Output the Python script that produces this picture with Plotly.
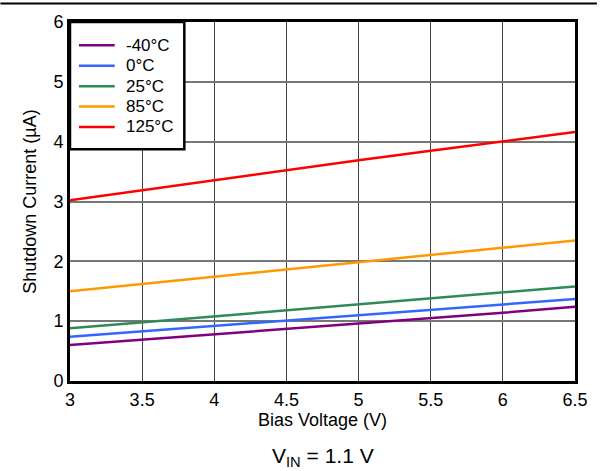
import plotly.graph_objects as go

bias_v = [3.0, 3.5, 4.0, 4.5, 5.0, 5.5, 6.0, 6.5]
temps = ["-40°C", "0°C", "25°C", "85°C", "125°C"]
i_m40 = [0.60, 0.69, 0.78, 0.86, 0.95, 1.04, 1.14, 1.24]
i_0 = [0.74, 0.83, 0.92, 1.01, 1.10, 1.19, 1.28, 1.37]
i_25 = [0.88, 0.98, 1.08, 1.18, 1.28, 1.38, 1.48, 1.58]
i_85 = [1.50, 1.62, 1.74, 1.86, 1.99, 2.11, 2.23, 2.35]
i_125 = [3.02, 3.19, 3.35, 3.52, 3.69, 3.85, 4.00, 4.16]
colors = ["#800080", "#3366ff", "#2e8b57", "#ff9900", "#ff0000"]

fig = go.Figure()
for name, ys, c in zip(temps, [i_m40, i_0, i_25, i_85, i_125], colors):
    fig.add_trace(go.Scatter(x=bias_v, y=ys, mode="lines", name=name,
                             line=dict(color=c, width=2.5), showlegend=False))

# plot area in pixels (for layout-only elements: legend box, rule line)
L, R, T, B = 70, 22, 20, 90
W, H = 600, 471
PW, PH = W - L - R, H - T - B

def px(x):
    return (x - L) / PW

def py(y):
    return (H - B - y) / PH

font = "Liberation Sans, Arial, sans-serif"
fig.update_layout(
    width=W, height=H,
    margin=dict(l=L, r=R, t=T, b=B),
    paper_bgcolor="white", plot_bgcolor="white",
    font=dict(family=font, size=18, color="black"),
    showlegend=False,
    xaxis=dict(range=[3, 6.5], tickvals=[3, 3.5, 4, 4.5, 5, 5.5, 6, 6.5],
               ticktext=["3", "3.5", "4", "4.5", "5", "5.5", "6", "6.5"],
               showgrid=True, gridcolor="#444", gridwidth=1,
               showline=True, linecolor="black", linewidth=3, mirror=True,
               ticks="", zeroline=False, tickfont=dict(size=18),
               title=dict(text="Bias Voltage (V)", standoff=4, font=dict(size=18))),
    yaxis=dict(range=[0, 6], tickvals=[0, 1, 2, 3, 4, 5, 6],
               showgrid=True, gridcolor="#777", gridwidth=1.5,
               showline=True, linecolor="black", linewidth=3, mirror=True,
               ticks="", zeroline=False, tickfont=dict(size=18),
               title=dict(text="Shutdown Current (µA)", standoff=13, font=dict(size=18))),
)

# legend box (manual, to match the reference's proportions)
fig.add_shape(type="rect", xref="paper", yref="paper",
              x0=px(70), x1=px(185), y0=py(148), y1=py(20),
              fillcolor="white", line=dict(color="black", width=2.5), layer="above")
for k, (name, c) in enumerate(zip(temps, colors)):
    yy = 43.5 + k * 20.5
    fig.add_shape(type="line", xref="paper", yref="paper",
                  x0=px(79), x1=px(115), y0=py(yy), y1=py(yy),
                  line=dict(color=c, width=2.5), layer="above")
    fig.add_annotation(text=name, xref="paper", yref="paper",
                       x=px(124), y=py(yy), xanchor="left", yanchor="middle",
                       showarrow=False, font=dict(size=17))

fig.add_annotation(text="V<sub>IN</sub> = 1.1 V", xref="paper", yref="paper",
                   x=0.5, y=-0.213, showarrow=False, yanchor="middle",
                   font=dict(size=21))
fig.add_shape(type="line", xref="paper", yref="paper",
              x0=px(0), x1=px(W), y0=py(1.5), y1=py(1.5),
              line=dict(color="black", width=2))
fig.write_html("out.html", config={"displayModeBar": False},
               post_script="document.body.style.margin='0';document.body.style.padding='0';")
